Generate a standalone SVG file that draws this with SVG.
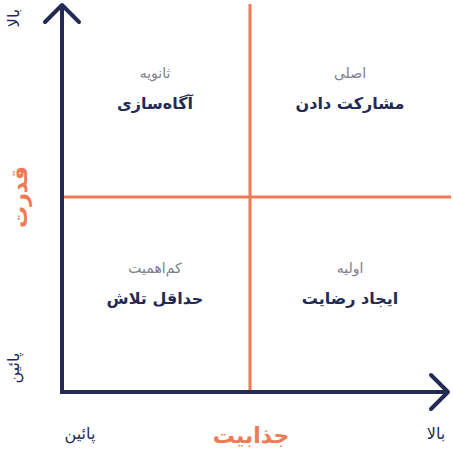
<svg xmlns="http://www.w3.org/2000/svg" width="453" height="453" viewBox="0 0 453 453">
<style>
.ax{stroke:#232b55;stroke-width:4;fill:none;stroke-linecap:square;stroke-linejoin:miter}
.ah{stroke:#232b55;stroke-width:4;fill:none;stroke-linecap:round;stroke-linejoin:round}
.q{stroke:#f07a55;stroke-width:3;fill:none}
text{font-family:"DejaVu Sans","Noto Sans",sans-serif;text-anchor:middle}
.sub{fill:#7d808a;font-size:14px}
.ttl{fill:#232b55;font-size:16px;font-weight:bold}
.lab{fill:#232b55;font-size:16px}
.big{fill:#f07a55;font-size:22px;font-weight:bold}
</style>
<g id="connectors">
<line class="q" x1="250" y1="4" x2="250" y2="392"/>
<line class="q" x1="60" y1="197" x2="451" y2="197"/>
<path class="ax" d="M62 8 V392 H444"/>
<path class="ah" d="M45 22 L62 5 L79 22"/>
<path class="ah" d="M431 375 L448 392 L431 409"/>
</g>
<g id="q-tl"><text class="sub" x="155" y="78">ثانویه</text><text class="ttl" x="155" y="109">آگاه‌سازی</text></g>
<g id="q-tr"><text class="sub" x="350" y="78">اصلی</text><text class="ttl" x="350" y="109">مشارکت دادن</text></g>
<g id="q-bl"><text class="sub" x="155" y="273">کم‌اهمیت</text><text class="ttl" x="155" y="304">حداقل تلاش</text></g>
<g id="q-br"><text class="sub" x="350" y="273">اولیه</text><text class="ttl" x="350" y="304">ایجاد رضایت</text></g>
<g id="x-axis-label"><text class="big" x="251" y="443">جذابیت</text></g>
<g id="y-axis-label"><text class="big" transform="translate(27,197) rotate(-90)">قدرت</text></g>
<g id="ticks">
<text class="lab" transform="translate(19,18) rotate(-90)">بالا</text>
<text class="lab" transform="translate(19,368) rotate(-90)">پائین</text>
<text class="lab" x="80" y="439">پائین</text>
<text class="lab" x="436" y="439">بالا</text>
</g>
</svg>
